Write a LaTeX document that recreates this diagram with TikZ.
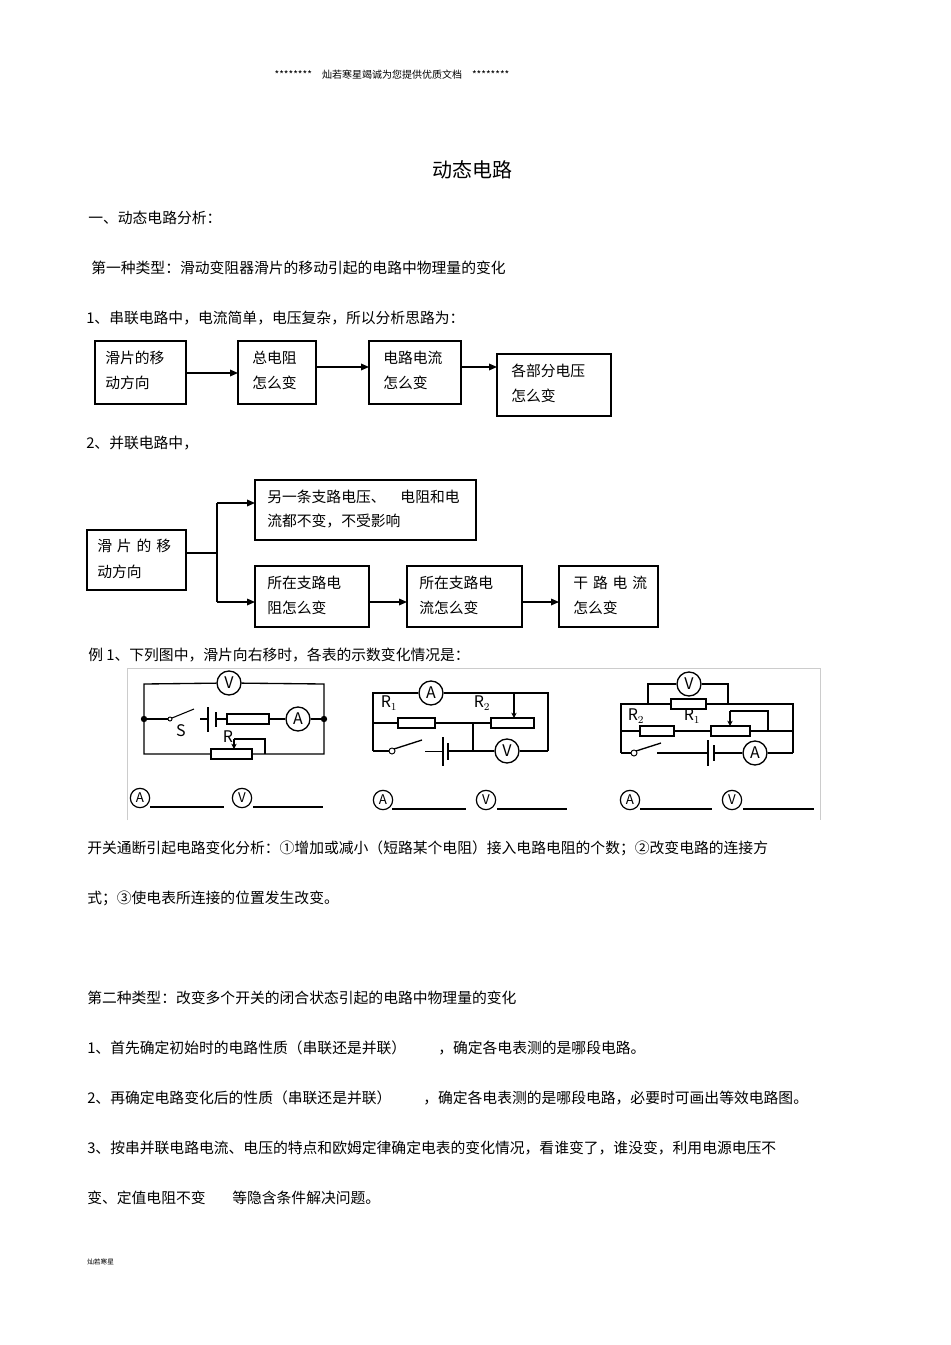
\documentclass[tikz,border=0pt]{standalone}
\usepackage{fontspec}
\setmainfont{Noto Sans CJK SC}
\usetikzlibrary{arrows.meta}
\begin{document}
\begin{tikzpicture}[x=0.75pt,y=-0.75pt,
  txt/.style={anchor=west,inner sep=0pt,font=\fontsize{11.1}{13}\selectfont},
  box/.style={draw,line width=0.8pt},
  arr/.style={line width=0.9pt,-{Triangle[length=6pt,width=5pt]}},
  wire/.style={line width=1pt},
  meter/.style={draw,circle,line width=1pt,minimum size=18pt,inner sep=0pt,font=\fontsize{12}{12}\selectfont},
  smeter/.style={draw,circle,line width=0.9pt,minimum size=14.5pt,inner sep=0pt,font=\fontsize{10}{10}\selectfont},
  res/.style={draw,line width=1pt,fill=white},
  lbl/.style={inner sep=0pt,font=\fontsize{12}{12}\selectfont\rmfamily}]
\useasboundingbox (0,0) rectangle (950,1345);
\fill[white] (0,0) rectangle (950,1345);
\node[inner sep=0pt,font=\fontsize{7.5}{9}\selectfont] (hdr) at (392,75) {********\quad 灿若寒星竭诚为您提供优质文档\quad ********};
\node[inner sep=0pt,font=\fontsize{15}{18}\selectfont] (title) at (472,170) {动态电路};
\node[txt] (t1) at (88,218) {一、动态电路分析：};
\node[txt] (t2) at (91,268) {第一种类型：滑动变阻器滑片的移动引起的电路中物理量的变化};
\node[txt] (t3) at (86,318) {1、串联电路中，电流简单，电压复杂，所以分析思路为：};
% row 1 boxes
\draw[box] (95,341) rectangle (186,404);
\draw[box] (238,341) rectangle (316,404);
\draw[box] (369,341) rectangle (461,404);
\draw[box] (497,354) rectangle (611,416);
\node[txt] (b1) at (105,358) {滑片的移};
\node[txt] (b1b) at (105,383) {动方向};
\node[txt] (b2) at (252,358) {总电阻};
\node[txt] (b2b) at (252,383) {怎么变};
\node[txt] (b3) at (383,358) {电路电流};
\node[txt] (b3b) at (383,383) {怎么变};
\node[txt] (b4) at (511,371) {各部分电压};
\node[txt] (b4b) at (511,396) {怎么变};
\coordinate (a1) at (186,373); \coordinate (a2) at (238,373);
\coordinate (a3) at (316,367); \coordinate (a4) at (369,367);
\coordinate (a5) at (461,367); \coordinate (a6) at (497,367);
\draw[arr] (a1) -- (a2); \draw[arr] (a3) -- (a4); \draw[arr] (a5) -- (a6);
\node[txt] (t4) at (86,443) {2、并联电路中，};
% row 2
\draw[box] (87,530) rectangle (186,590);
\draw[box] (255,480) rectangle (476,540);
\draw[box] (255,566) rectangle (369,627);
\draw[box] (407,566) rectangle (522,627);
\draw[box] (559,566) rectangle (658,627);
\node[txt] (c1) at (97,546) {滑\,\,片\,\,的\,\,移};
\node[txt] (c1b) at (97,572) {动方向};
\node[txt] (c2) at (267,497) {另一条支路电压、\quad 电阻和电};
\node[txt] (c2b) at (267,521) {流都不变，不受影响};
\node[txt] (c3) at (267,583) {所在支路电};
\node[txt] (c3b) at (267,608) {阻怎么变};
\node[txt] (c4) at (419,583) {所在支路电};
\node[txt] (c4b) at (419,608) {流怎么变};
\node[txt] (c5) at (573,583) {干\,\,路\,\,电\,\,流};
\node[txt] (c5b) at (573,608) {怎么变};
\coordinate (s0) at (186,553); \coordinate (s1) at (217,553);
\coordinate (s2) at (217,503); \coordinate (s3) at (217,602);
\draw[wire,line width=0.8pt] (s0) -- (s1) (s2) -- (s3);
\draw[arr] (s2) -- (255,503);
\draw[arr] (s3) -- (255,602);
\draw[arr] (369,602) -- (407,602);
\draw[arr] (522,602) -- (559,602);
\node[txt] (t5) at (88,655) {例 1、下列图中，滑片向右移时，各表的示数变化情况是：};
% frame
\draw[gray!40,line width=0.6pt] (127,820) -- (127,668) -- (820,668) -- (820,820);
% circuit 1
\node[meter] (v1) at (229,683) {V};
\draw[wire] (v1) -- (144,684) -- (144,754) -- (211,754);
\draw[wire] (v1) -- (324,684) -- (324,754) -- (252,754);
\draw[res] (211,749) rectangle (252,759);
\draw[wire] (265,754) -- (265,739) -- (234,739);
\draw[wire,-{Stealth[length=4pt,width=4pt]}] (234,739) -- (234,749);
\node[lbl] (r1) at (228,737) {R};
\fill (144,719) circle (3.2); \fill (324,719) circle (3.2);
\draw[wire] (144,719) -- (168,719);
\draw[line width=0.7pt] (170,719) circle (2);
\draw[line width=0.8pt] (172,718) -- (194,709);
\draw[wire] (200,719) -- (208,719);
\draw[line width=0.8pt] (208,707) -- (208,732);
\draw[line width=2.2pt] (216,712) -- (216,727);
\draw[wire] (216,719) -- (227,719);
\draw[res] (227,714) rectangle (269,724);
\node[meter] (am1) at (298,719) {A};
\draw[wire] (269,719) -- (am1) -- (324,719);
\node[lbl] (sl) at (181,731) {S};
% circuit 2
\node[meter] (am2) at (431,693) {A};
\draw[wire] (373,751) -- (373,693) -- (am2) -- (548,693) -- (548,751);
\draw[wire,-{Stealth[length=4pt,width=4pt]}] (514,693) -- (514,718);
\node[lbl] (r21) at (389,703) {R$_1$};
\node[lbl] (r22) at (482,703) {R$_2$};
\draw[wire] (373,723) -- (491,723);
\draw[res] (398,718) rectangle (435,728);
\draw[res] (491,718) rectangle (534,728);
\draw[wire] (473,723) -- (473,751);
\draw[wire] (373,751) -- (389,751);
\draw[line width=0.7pt] (392,751) circle (3);
\draw[line width=1pt] (394,749) -- (422,740);
\draw[line width=0.7pt] (425,751) -- (443,751);
\draw[line width=0.8pt] (443,737) -- (443,766);
\draw[line width=1.8pt] (448,743) -- (448,760);
\node[meter] (vm2) at (507,751) {V};
\draw[wire] (448,751) -- (vm2) -- (548,751);
% circuit 3
\node[meter] (vm3) at (689,684) {V};
\draw[wire] (648,704) -- (648,684) -- (vm3) -- (728,684) -- (728,704);
\draw[wire] (621,753) -- (621,704) -- (793,704) -- (793,753);
\draw[res] (671,699) rectangle (706,709);
\draw[wire] (621,731) -- (793,731);
\draw[res] (640,726) rectangle (674,736);
\draw[res] (711,726) rectangle (750,736);
\draw[wire] (768,731) -- (768,711) -- (730,711);
\draw[wire,-{Stealth[length=4pt,width=4pt]}] (730,711) -- (730,726);
\node[lbl] (r32) at (636,716) {R$_2$};
\node[lbl] (r31) at (692,716) {R$_1$};
\draw[wire] (621,753) -- (631,753);
\draw[line width=0.7pt] (634,753) circle (3);
\draw[line width=1pt] (636,751) -- (661,743);
\draw[wire] (657,753) -- (708,753);
\draw[line width=0.8pt] (708,740) -- (708,766);
\draw[line width=1.8pt] (714,745) -- (714,761);
\node[meter] (am3) at (755,753) {A};
\draw[wire] (714,753) -- (am3) -- (793,753);
% answer lines
\node[smeter] (qa1) at (140,798) {A};
\node[smeter] (qv1) at (242,798) {V};
\node[smeter] (qa2) at (383,800) {A};
\node[smeter] (qv2) at (486,800) {V};
\node[smeter] (qa3) at (630,800) {A};
\node[smeter] (qv3) at (732,800) {V};
\draw[line width=0.8pt] (150,807) -- (224,807) (253,807) -- (323,807);
\draw[line width=1.2pt] (392,809) -- (466,809);
\draw[line width=0.8pt] (497,809) -- (567,809) (743,809) -- (814,809);
\draw[line width=1.2pt] (640,809) -- (712,809);
% text
\node[txt] (t6) at (87,848) {开关通断引起电路变化分析：①增加或减小（短路某个电阻）接入电路电阻的个数；②改变电路的连接方};
\node[txt] (t7) at (87,898) {式；③使电表所连接的位置发生改变。};
\node[txt] (t8) at (87,998) {第二种类型：改变多个开关的闭合状态引起的电路中物理量的变化};
\node[txt] (t9) at (87,1048) {1、首先确定初始时的电路性质（串联还是并联）};
\node[txt] (t9b) at (438,1048) {，确定各电表测的是哪段电路。};
\node[txt] (t10) at (87,1098) {2、再确定电路变化后的性质（串联还是并联）};
\node[txt] (t10b) at (423,1098) {，确定各电表测的是哪段电路，必要时可画出等效电路图。};
\node[txt] (t11) at (87,1148) {3、按串并联电路电流、电压的特点和欧姆定律确定电表的变化情况，看谁变了，谁没变，利用电源电压不};
\node[txt] (t12) at (87,1198) {变、定值电阻不变};
\node[txt] (t12b) at (232,1198) {等隐含条件解决问题。};
\node[anchor=west,inner sep=0pt,font=\fontsize{5}{6}\selectfont] (ft) at (87,1262) {灿若寒星};
\end{tikzpicture}
\end{document}
